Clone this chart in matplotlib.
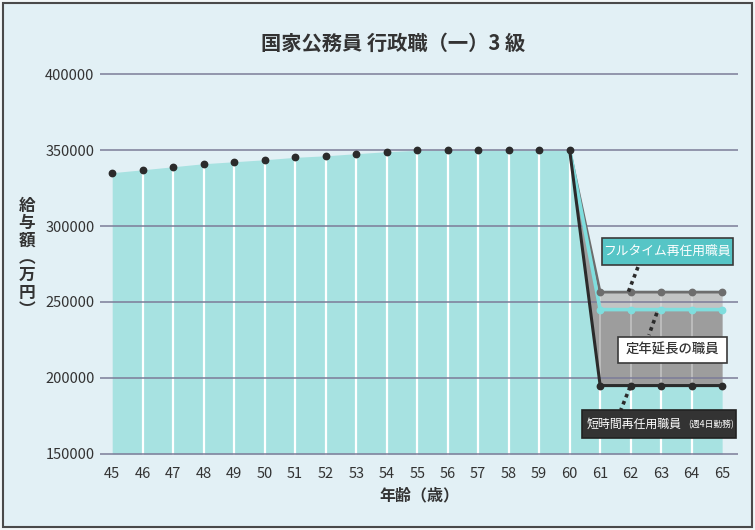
import matplotlib
matplotlib.use('Agg')
import matplotlib.pyplot as plt
from matplotlib.patches import Rectangle

plt.rcParams['font.family'] = ['Noto Sans CJK JP', 'DejaVu Sans']

# データ
ages = list(range(45, 66))
salary_until60 = [335100, 337000, 339000, 341000, 342300, 343600, 345200, 346200,
                  347600, 348900, 349800, 350000, 350000, 350000, 350000, 350000]
ages_after = [61, 62, 63, 64, 65]
extension = [256500, 256500, 256500, 256500, 256500]   # 定年延長の職員
fulltime = [245000, 245000, 245000, 245000, 245000]    # フルタイム再任用職員
shorttime = [195000, 195000, 195000, 195000, 195000]   # 短時間再任用職員
yticks = [150000, 200000, 250000, 300000, 350000, 400000]

bg = '#e2f0f5'
cyan_fill = '#a7e2e1'

fig = plt.figure(figsize=(7.55, 5.3), dpi=100, facecolor='#f2f6f7')
fig.patches.append(Rectangle((3 / 755, 3 / 530), 749 / 755, 524 / 530, transform=fig.transFigure,
                             fc=bg, ec='#4a4a4a', lw=1.5, zorder=-5))
ax = fig.add_axes([100 / 755, 73 / 530, 638 / 755, 386 / 530])
ax.set_facecolor('none')

x60 = ages[:16]
xa = [60] + ages_after
top_all = salary_until60 + extension
low_all = salary_until60 + shorttime

# 塗りつぶし
ax.fill_between(ages, 150000, low_all, color=cyan_fill, lw=0, zorder=1)
ax.fill_between(xa, [salary_until60[-1]] + shorttime, [salary_until60[-1]] + fulltime,
                color='#9d9d9d', lw=0, zorder=1)
ax.fill_between(xa, [salary_until60[-1]] + fulltime, [salary_until60[-1]] + extension,
                color='#c2c4c4', lw=0, zorder=1)

# 縦の白線
for i, a in enumerate(ages[1:-1], start=1):
    ax.plot([a, a], [150000, low_all[i]], color='white', lw=1.6, zorder=2)
    if a >= 61:
        ax.plot([a, a], [low_all[i], top_all[i]], color='#e8e8e8', lw=1.3, alpha=0.45, zorder=2)

# 横のグリッド線
for yv in yticks:
    ax.axhline(yv, color='#7c7c98', lw=1.1, zorder=3)

# 線とマーカー
ms = 4.6
ax.plot(xa, [salary_until60[-1]] + extension, color='#6d6d6d', lw=2, zorder=4)
ax.plot(ages_after, extension, 'o', color='#6d6d6d', ms=ms, zorder=5)
ax.plot(xa, [salary_until60[-1]] + fulltime, color='#7fdede', lw=2.6, zorder=4)
ax.plot(ages_after, fulltime, 'o', color='#7fdede', ms=ms, zorder=5)
ax.plot(xa, [salary_until60[-1]] + shorttime, color='#2b2b2b', lw=2.2, zorder=4)
ax.plot(ages_after, shorttime, 'o', color='#2b2b2b', ms=ms, zorder=5)
ax.plot(x60, salary_until60, 'o', color='#2b2b2b', ms=ms, zorder=5)

ax.set_xlim(44.6, 65.52)
ax.set_ylim(148000, 402000)
ax.set_xticks(ages)
ax.set_yticks(yticks)
ax.set_xticklabels([str(a) for a in ages])
ax.set_yticklabels([str(v) for v in yticks])
ax.tick_params(length=0, labelsize=10.5, colors='#333333')
ax.tick_params(axis='x', pad=7)
ax.tick_params(axis='y', pad=4)
for s in ax.spines.values():
    s.set_visible(False)

# 注釈ボックス
dot = (0, (1, 1.1))
ax.plot([62.24, 61.91], [273000, 255900], color='#2b2b2b', lw=2.6, ls=dot, zorder=6)
ax.plot([62.86, 62.60], [242800, 228300], color='#2b2b2b', lw=2.6, ls=dot, zorder=6)
ax.plot([61.98, 61.68], [194100, 179000], color='#2b2b2b', lw=2.6, ls=dot, zorder=6)

ax.add_patch(Rectangle((61.06, 274400), 4.29, 17700, fc='#56c5c6', ec='#3a3a3a', lw=1.2,
                       zorder=7, clip_on=False))
ax.text(63.2, 283300, 'フルタイム再任用職員', color='white', fontsize=9.2, ha='center',
        va='center', zorder=8)
ax.add_patch(Rectangle((61.58, 209900), 3.58, 17100, fc='white', ec='#3a3a3a', lw=1.2,
                       zorder=7, clip_on=False))
ax.text(63.37, 218500, '定年延長の職員', color='#333333', fontsize=9.6, ha='center',
        va='center', fontweight='medium', zorder=8)
ax.add_patch(Rectangle((60.40, 160500), 5.05, 18100, fc='#333333', ec='#222222', lw=1.2,
                       zorder=7, clip_on=False))
ax.text(60.57, 169400, '短時間再任用職員', color='white', fontsize=8.6, ha='left',
        va='center', zorder=8)
ax.text(65.40, 169300, '(週4日勤務)', color='white', fontsize=6.3, ha='right',
        va='center', zorder=8)

# タイトルと軸ラベル
fig.text(393 / 755, 1 - 43 / 530, '国家公務員 行政職（一）3 級', ha='center', va='center',
         fontsize=14.6, fontweight='bold', color='#333333')
fig.text(419 / 755, 1 - 495 / 530, '年齢（歳）', ha='center', va='center',
         fontsize=11.5, fontweight='bold', color='#333333')
fig.text(27 / 755, 1 - 258 / 530, '\n'.join('給与額︵万円︶'), ha='center', va='center',
         fontsize=12, fontweight='bold', color='#333333', linespacing=0.95)

fig.savefig('out.png', dpi=100, facecolor=fig.get_facecolor())
